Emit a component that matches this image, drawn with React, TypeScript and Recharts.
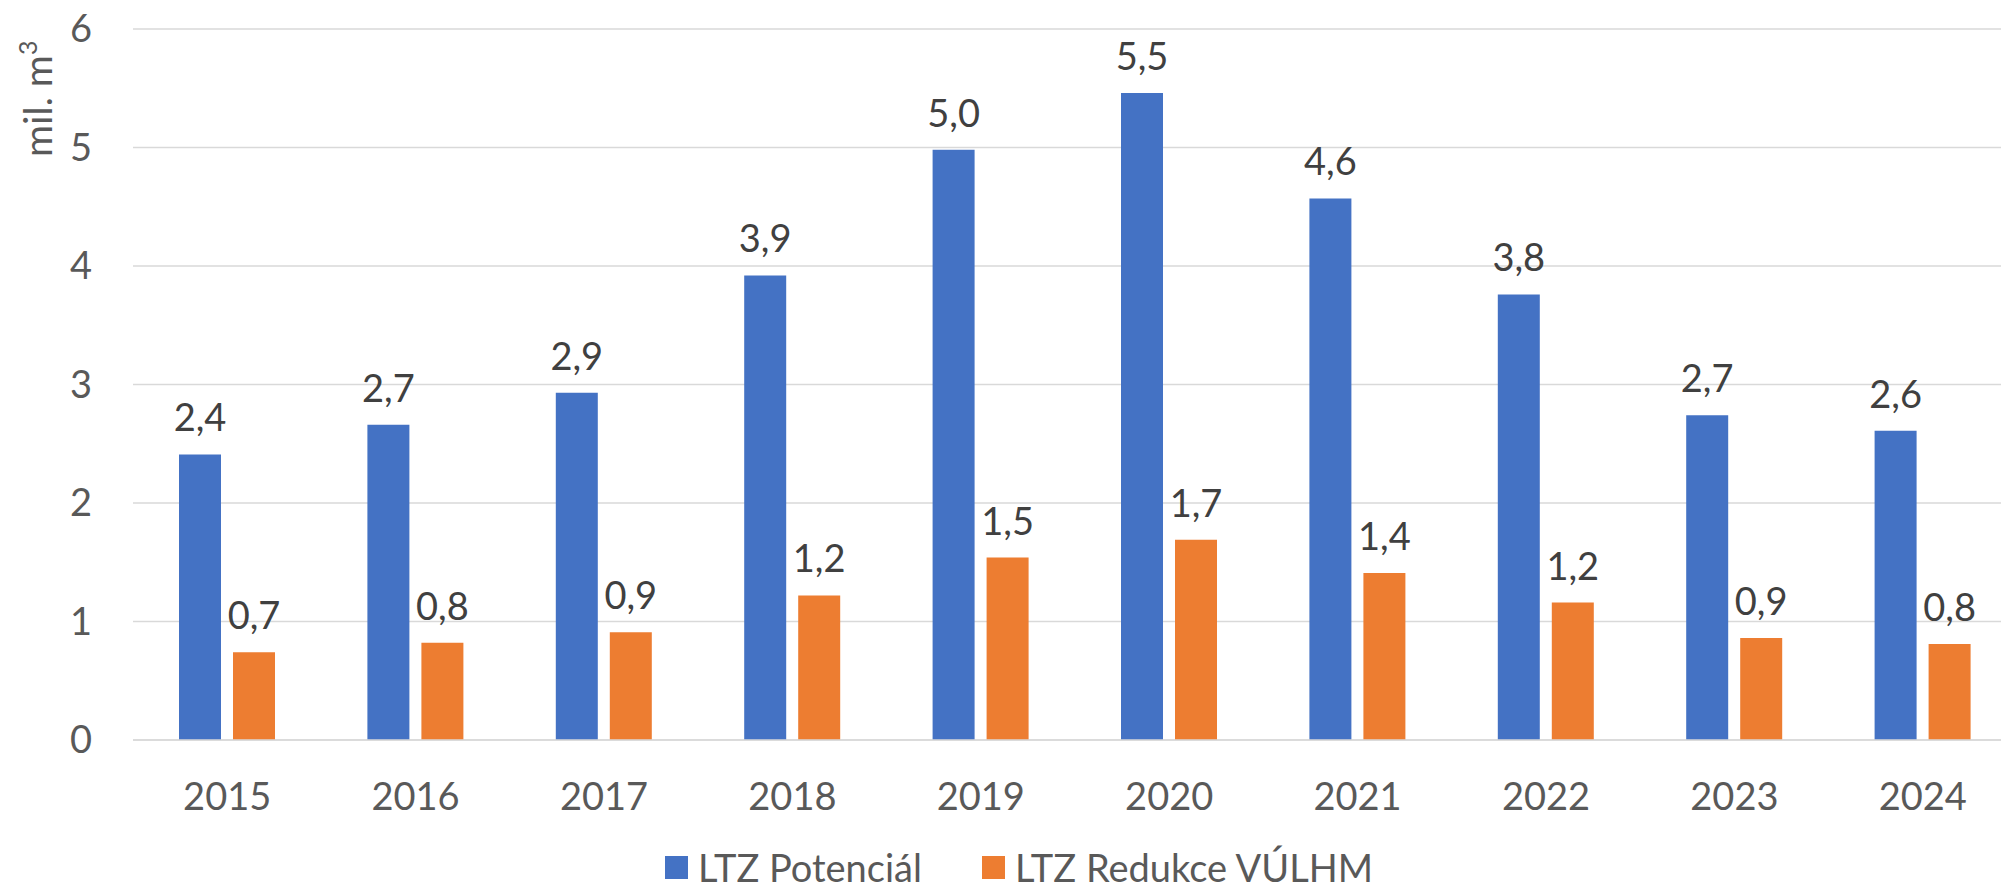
import React from "react";
import {
  BarChart,
  Bar,
  XAxis,
  YAxis,
  CartesianGrid,
  Legend,
  LabelList,
} from "recharts";

const roky = ["2015", "2016", "2017", "2018", "2019", "2020", "2021", "2022", "2023", "2024"];
const potencial = [2.41, 2.66, 2.93, 3.92, 4.98, 5.46, 4.57, 3.76, 2.74, 2.61];
const redukce = [0.74, 0.82, 0.91, 1.22, 1.54, 1.69, 1.41, 1.16, 0.86, 0.81];
const yTicks = [0, 1, 2, 3, 4, 5, 6];

const MODRA = "#4472C4";
const ORANZOVA = "#ED7D31";
const FONT = "Lato, 'DejaVu Sans', sans-serif";

const data = roky.map((rok, i) => ({
  rok,
  potencial: potencial[i],
  redukce: redukce[i],
}));

const fmt = (v: number) => v.toFixed(1).replace(".", ",");

// nadpis osy Y s horním indexem
function OsaYNadpis(props: any) {
  const vb = props.viewBox || { x: 0, y: 0 };
  const x = vb.x + 52;
  const y = vb.y + 128;
  return (
    <text
      x={x}
      y={y}
      transform={`rotate(-90, ${x}, ${y})`}
      textAnchor="start"
      fill="#595959"
      fontSize={39}
      fontFamily={FONT}
    >
      mil. m
      <tspan dy={-15} fontSize={25}>
        3
      </tspan>
    </text>
  );
}

function Legenda() {
  const polozky = [
    { label: "LTZ Potenciál", color: MODRA },
    { label: "LTZ Redukce VÚLHM", color: ORANZOVA },
  ];
  return (
    <div style={{ display: "flex", alignItems: "center", fontFamily: FONT, height: 34 }}>
      {polozky.map((p) => (
        <div
          key={p.label}
          style={{ display: "flex", alignItems: "center", marginRight: 60 }}
        >
          <span
            style={{
              display: "inline-block",
              width: 23,
              height: 23,
              background: p.color,
              marginRight: 10,
            }}
          />
          <span style={{ fontSize: 38, color: "#595959", lineHeight: "34px" }}>
            {p.label}
          </span>
        </div>
      ))}
    </div>
  );
}

export default function App() {
  return (
    <div
      style={{
        position: "absolute",
        left: 0,
        top: 0,
        width: 2001,
        height: 886,
        overflow: "hidden",
        background: "#fff",
      }}
    >
      <BarChart
        width={2030}
        height={886}
        data={data}
        margin={{ top: 29, right: 13, bottom: 0, left: 0 }}
        barGap={12}
      >
        <CartesianGrid
          vertical={false}
          stroke="#d9d9d9"
          strokeWidth={1.5}
        />
        <XAxis
          dataKey="rok"
          height={112}
          tickLine={false}
          tickSize={0}
          tickMargin={43}
          axisLine={{ stroke: "#d9d9d9", strokeWidth: 1.5 }}
          tick={{ fontSize: 38, fill: "#595959", fontFamily: FONT }}
        />
        <YAxis
          width={133}
          domain={[0, 6]}
          ticks={yTicks}
          axisLine={false}
          tickLine={false}
          tickSize={0}
          tickMargin={41}
          tick={{ fontSize: 38, fill: "#595959", fontFamily: FONT }}
          label={{ content: OsaYNadpis }}
        />
        <Legend
          content={() => <Legenda />}
          wrapperStyle={{ left: 665, top: 850, width: "auto", bottom: "auto" }}
        />
        <Bar
          dataKey="potencial"
          name="LTZ Potenciál"
          fill={MODRA}
          barSize={42}
          isAnimationActive={false}
        >
          <LabelList
            dataKey="potencial"
            position="top"
            offset={23}
            formatter={(v: any) => fmt(Number(v))}
            style={{ fontSize: 38, fill: "#404040", fontFamily: FONT }}
          />
        </Bar>
        <Bar
          dataKey="redukce"
          name="LTZ Redukce VÚLHM"
          fill={ORANZOVA}
          barSize={42}
          isAnimationActive={false}
        >
          <LabelList
            dataKey="redukce"
            position="top"
            offset={23}
            formatter={(v: any) => fmt(Number(v))}
            style={{ fontSize: 38, fill: "#404040", fontFamily: FONT }}
          />
        </Bar>
      </BarChart>
    </div>
  );
}
